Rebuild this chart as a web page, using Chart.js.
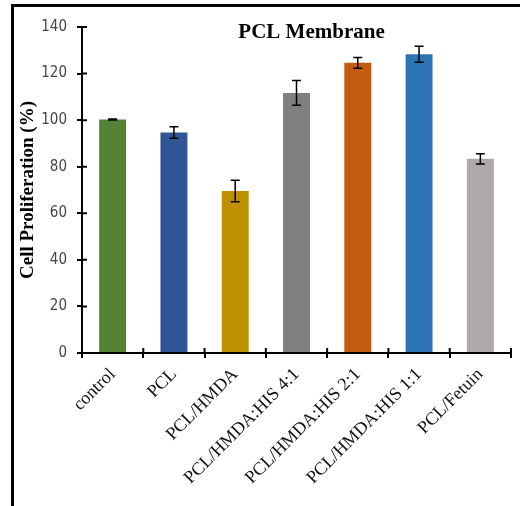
<!DOCTYPE html>
<html>
<head>
<meta charset="utf-8">
<script src="https://cdn.jsdelivr.net/npm/chart.js@4"></script>
<style>
  body { margin: 0; background: #fff; }
  #wrap { position: relative; width: 520px; height: 506px; overflow: hidden; }
  #frame { position: absolute; left: 11px; top: 4px; width: 600px; height: 600px;
           border-top: 3px solid #000; border-left: 3px solid #000; }
  canvas { position: absolute; left: 0; top: 0; }
</style>
</head>
<body>
<div id="wrap">
  <div id="frame"></div>
  <canvas id="chart" width="520" height="506"></canvas>
</div>
<script>
// 세포 증식률 (%) - PCL Membrane
const categories = ["control", "PCL", "PCL/HMDA", "PCL/HMDA:HIS 4:1",
                    "PCL/HMDA:HIS 2:1", "PCL/HMDA:HIS 1:1", "PCL/Fetuin"];
const proliferation = [100.3, 94.7, 69.6, 111.7, 124.6, 128.3, 83.4];
const errors        = [0.2, 2.5, 4.6, 5.3, 2.3, 3.4, 2.2];
const barColors = ["#548235", "#2F5597", "#BF9000", "#7F7F7F",
                   "#C55A11", "#2E75B6", "#AEAAAA"];

// 오차 막대
const errorBars = {
    id: "errorBars",
    afterDatasetsDraw(chart) {
        const { ctx, scales: { y } } = chart;
        const meta = chart.getDatasetMeta(0);
        ctx.save();
        ctx.strokeStyle = "#000";
        ctx.lineWidth = 1.5;
        meta.data.forEach((bar, i) => {
            const top = y.getPixelForValue(proliferation[i] + errors[i]);
            const bot = y.getPixelForValue(proliferation[i] - errors[i]);
            ctx.beginPath();
            ctx.moveTo(bar.x, top); ctx.lineTo(bar.x, bot);
            ctx.moveTo(bar.x - 4.5, top); ctx.lineTo(bar.x + 4.5, top);
            ctx.moveTo(bar.x - 4.5, bot); ctx.lineTo(bar.x + 4.5, bot);
            ctx.stroke();
        });
        ctx.restore();
    },
};

// 축 안쪽으로 튀어나온 눈금 + 제목
const axisExtras = {
    id: "axisExtras",
    afterDatasetsDraw(chart) {
        const { ctx, chartArea, scales: { x, y } } = chart;
        ctx.save();
        ctx.strokeStyle = "#000";
        ctx.lineWidth = 2;
        ctx.beginPath();
        ctx.moveTo(chartArea.left - 5, chartArea.bottom);
        ctx.lineTo(chartArea.right, chartArea.bottom);
        y.ticks.forEach(t => {
            const py = y.getPixelForValue(t.value);
            ctx.moveTo(chartArea.left, py); ctx.lineTo(chartArea.left + 5, py);
        });
        for (let i = 0; i <= categories.length; i++) {
            const px = x.getPixelForValue(i - 0.5);
            ctx.moveTo(px, chartArea.bottom - 5); ctx.lineTo(px, chartArea.bottom);
        }
        ctx.stroke();

        ctx.fillStyle = "#000";
        ctx.font = 'bold 21px "Liberation Serif", "Times New Roman", serif';
        ctx.textAlign = "center";
        ctx.textBaseline = "alphabetic";
        ctx.fillText("PCL Membrane", chartArea.left + chartArea.width * 0.535, 38);
        ctx.restore();
    },
};

new Chart(document.querySelector("#chart"), {
    type: "bar",
    data: {
        labels: categories,
        datasets: [{
            data: proliferation,
            backgroundColor: barColors,
            borderWidth: 0,
            categoryPercentage: 1,
            barPercentage: 0.44,
        }],
    },
    options: {
        responsive: false,
        animation: false,
        layout: { padding: { left: 14, right: 9, top: 27, bottom: 0 } },
        plugins: {
            legend: { display: false },
            tooltip: { enabled: false },
        },
        scales: {
            x: {
                offset: true,
                grid: { drawOnChartArea: false, drawTicks: true, tickLength: 5,
                        color: "#000", lineWidth: 2, offset: true },
                border: { display: true, color: "#000", width: 2 },
                ticks: {
                    maxRotation: 45, minRotation: 45, padding: 6,
                    color: "#111",
                    font: { family: '"Liberation Serif", "Times New Roman", serif', size: 18 },
                },
                afterFit: s => { s.height = 153; },
            },
            y: {
                min: 0, max: 140,
                grid: { drawOnChartArea: false, drawTicks: true, tickLength: 5,
                        color: "#000", lineWidth: 2 },
                border: { display: true, color: "#000", width: 2 },
                ticks: {
                    stepSize: 20, padding: 10, color: "#444",
                    font: { family: '"DejaVu Sans Condensed", "Liberation Sans Narrow", sans-serif', size: 15 },
                },
                title: {
                    display: true,
                    text: "Cell Proliferation (%)",
                    color: "#000",
                    padding: { top: 3, bottom: 0 },
                    font: { family: '"Liberation Serif", "Times New Roman", serif', size: 19, weight: "bold" },
                },
                afterFit: s => { s.width = 68; },
            },
        },
    },
    plugins: [errorBars, axisExtras],
});
</script>
</body>
</html>
